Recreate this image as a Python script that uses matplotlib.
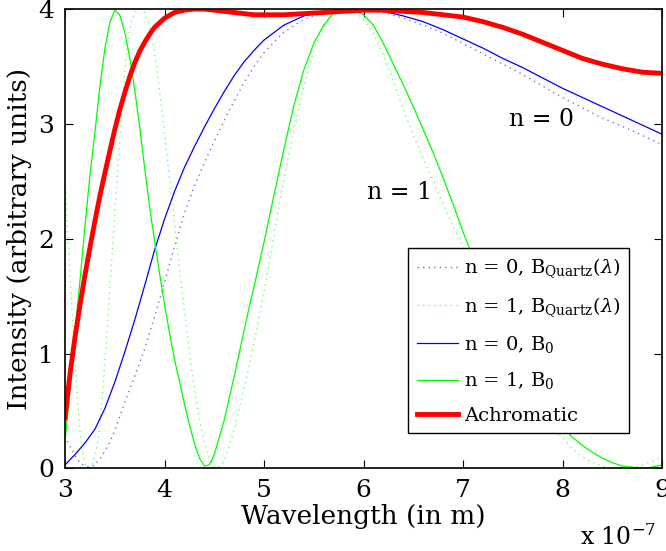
import matplotlib
matplotlib.use("Agg")
import matplotlib.pyplot as plt

plt.rcParams['font.family'] = 'DejaVu Serif'
plt.rcParams['mathtext.fontset'] = 'dejavuserif'

# wavelength in units of 1e-7 m
x_b0_n0 = [3.0, 3.1, 3.2, 3.3, 3.4, 3.5, 3.6, 3.7, 3.8, 3.9, 4.0, 4.1, 4.2, 4.3, 4.4,
           4.5, 4.6, 4.7, 4.8, 4.9, 5.0, 5.2, 5.4, 5.6, 5.8, 6.0, 6.2, 6.4, 6.6, 6.8,
           7.0, 7.2, 7.4, 7.6, 7.8, 8.0, 8.2, 8.4, 8.6, 8.8, 9.0]
y_b0_n0 = [0.03, 0.12, 0.22, 0.34, 0.52, 0.75, 1.01, 1.29, 1.59, 1.90, 2.17, 2.41, 2.62, 2.80, 2.97,
           3.13, 3.28, 3.42, 3.54, 3.64, 3.73, 3.86, 3.94, 3.98, 4.00, 4.00, 3.98, 3.94, 3.89, 3.82,
           3.74, 3.66, 3.57, 3.49, 3.40, 3.31, 3.23, 3.15, 3.07, 2.99, 2.91]

x_bq_n0 = [3.0, 3.05, 3.1, 3.15, 3.2, 3.25, 3.3, 3.35, 3.4, 3.45, 3.5, 3.6, 3.7, 3.8, 3.9,
           4.0, 4.1, 4.2, 4.3, 4.4, 4.5, 4.6, 4.7, 4.8, 4.9, 5.0, 5.2, 5.4, 5.6, 5.8,
           6.0, 6.2, 6.4, 6.6, 6.8, 7.0, 7.2, 7.4, 7.6, 7.8, 8.0, 8.2, 8.4, 8.6, 8.8, 9.0]
y_bq_n0 = [0.28, 0.19, 0.11, 0.05, 0.02, 0.01, 0.03, 0.08, 0.15, 0.23, 0.33, 0.57, 0.80, 1.04, 1.32,
           1.62, 1.93, 2.22, 2.46, 2.66, 2.85, 3.03, 3.20, 3.36, 3.50, 3.62, 3.80, 3.91, 3.97, 4.00,
           3.99, 3.97, 3.92, 3.86, 3.79, 3.70, 3.61, 3.52, 3.43, 3.33, 3.23, 3.14, 3.05, 2.98, 2.90, 2.82]

x_b0_n1 = [3.0, 3.05, 3.1, 3.15, 3.2, 3.25, 3.3, 3.35, 3.4, 3.45, 3.5, 3.55, 3.6, 3.65, 3.7,
           3.75, 3.8, 3.85, 3.9, 3.95, 4.0, 4.05, 4.1, 4.15, 4.2, 4.25, 4.3, 4.35, 4.4, 4.45,
           4.5, 4.55, 4.6, 4.65, 4.7, 4.75, 4.8, 4.85, 4.9, 4.95, 5.0, 5.1, 5.2, 5.3, 5.4,
           5.5, 5.6, 5.7, 5.8, 5.9, 6.0, 6.1, 6.2, 6.3, 6.4, 6.5, 6.6, 6.7, 6.8, 6.9,
           7.0, 7.2, 7.4, 7.6, 7.8, 8.0, 8.1, 8.2, 8.3, 8.4, 8.5, 8.6, 8.7, 8.8, 8.9, 9.0]
y_b0_n1 = [0.23, 0.68, 1.18, 1.63, 2.10, 2.55, 2.92, 3.32, 3.65, 3.88, 3.99, 3.95, 3.80, 3.58, 3.30,
           2.98, 2.62, 2.28, 1.98, 1.70, 1.43, 1.18, 0.95, 0.76, 0.56, 0.38, 0.22, 0.09, 0.02, 0.03,
           0.12, 0.27, 0.42, 0.61, 0.80, 1.00, 1.20, 1.40, 1.58, 1.78, 1.97, 2.38, 2.78, 3.16, 3.47,
           3.70, 3.86, 3.97, 4.00, 3.99, 3.95, 3.86, 3.70, 3.52, 3.34, 3.15, 2.95, 2.75, 2.53, 2.30,
           2.06, 1.62, 1.22, 0.88, 0.58, 0.36, 0.27, 0.20, 0.14, 0.09, 0.05, 0.02, 0.01, 0.00, 0.01, 0.03]

x_bq_n1 = [3.0, 3.03, 3.06, 3.09, 3.12, 3.15, 3.18, 3.21, 3.24, 3.27, 3.3, 3.33, 3.36, 3.39, 3.42,
           3.45, 3.48, 3.51, 3.54, 3.57, 3.6, 3.63, 3.66, 3.7, 3.74, 3.76, 3.8, 3.84, 3.88, 3.92,
           3.96, 4.0, 4.04, 4.08, 4.12, 4.16, 4.2, 4.24, 4.28, 4.32, 4.36, 4.4, 4.44, 4.48, 4.52,
           4.56, 4.6, 4.65, 4.7, 4.75, 4.8, 4.85, 4.9, 4.95, 5.0, 5.05, 5.1, 5.15, 5.2, 5.3,
           5.4, 5.5, 5.6, 5.7, 5.8, 5.9, 6.0, 6.1, 6.2, 6.3, 6.4, 6.5, 6.6, 6.7, 6.8,
           6.9, 7.0, 7.2, 7.4, 7.6, 7.8, 8.0, 8.1, 8.2, 8.3, 8.4, 8.5, 8.6, 8.7, 8.8, 8.9, 9.0]
y_bq_n1 = [2.55, 2.00, 1.55, 1.08, 0.66, 0.33, 0.12, 0.03, 0.00, 0.03, 0.10, 0.22, 0.46, 0.80, 1.16,
           1.56, 1.95, 2.35, 2.72, 3.10, 3.45, 3.70, 3.87, 3.97, 4.00, 4.00, 3.97, 3.88, 3.72, 3.50,
           3.22, 2.92, 2.61, 2.30, 1.98, 1.67, 1.37, 1.08, 0.82, 0.59, 0.39, 0.23, 0.11, 0.04, 0.00,
           0.02, 0.07, 0.19, 0.34, 0.51, 0.70, 0.89, 1.09, 1.31, 1.54, 1.79, 2.03, 2.28, 2.52, 2.95,
           3.33, 3.64, 3.85, 3.96, 4.00, 3.99, 3.91, 3.79, 3.60, 3.37, 3.13, 2.90, 2.70, 2.50, 2.30,
           2.11, 1.93, 1.52, 1.12, 0.76, 0.45, 0.27, 0.17, 0.10, 0.05, 0.02, 0.00, 0.00, 0.01, 0.03, 0.06, 0.10]

x_achro = [3.0, 3.05, 3.1, 3.15, 3.2, 3.25, 3.3, 3.35, 3.4, 3.45, 3.5, 3.55, 3.6, 3.65, 3.7,
           3.75, 3.8, 3.85, 3.9, 3.95, 4.0, 4.1, 4.2, 4.3, 4.4, 4.5, 4.6, 4.7, 4.8, 4.9,
           5.0, 5.2, 5.4, 5.6, 5.8, 6.0, 6.2, 6.4, 6.6, 6.8, 7.0, 7.2, 7.4, 7.6, 7.8,
           8.0, 8.2, 8.4, 8.6, 8.8, 9.0]
y_achro = [0.44, 0.82, 1.14, 1.42, 1.68, 1.92, 2.15, 2.37, 2.57, 2.76, 2.95, 3.12, 3.27, 3.41, 3.53,
           3.63, 3.71, 3.78, 3.84, 3.88, 3.92, 3.97, 3.99, 4.00, 4.00, 3.99, 3.98, 3.97, 3.96, 3.95,
           3.95, 3.95, 3.96, 3.97, 3.98, 3.99, 3.99, 3.98, 3.97, 3.95, 3.93, 3.89, 3.84, 3.78, 3.71,
           3.64, 3.57, 3.52, 3.48, 3.45, 3.44]

labels = [r'n = 0, B$_{\rm Quartz}$($\lambda$)', r'n = 1, B$_{\rm Quartz}$($\lambda$)',
          r'n = 0, B$_{\rm 0}$', r'n = 1, B$_{\rm 0}$', 'Achromatic']

fig = plt.figure(figsize=(6.66, 5.51), dpi=100)
ax = fig.add_axes([0.0976, 0.150, 0.8964, 0.8336])

ax.plot(x_bq_n0, y_bq_n0, color='#6f6fff', linestyle=(0, (1, 3)), linewidth=1.0, label=labels[0])
ax.plot(x_bq_n1, y_bq_n1, color='#6fff6f', linestyle=(0, (1, 3)), linewidth=1.0, label=labels[1])
ax.plot(x_b0_n0, y_b0_n0, color='#0000ff', linewidth=0.9, label=labels[2])
ax.plot(x_b0_n1, y_b0_n1, color='#00ff00', linewidth=0.9, label=labels[3])
ax.plot(x_achro, y_achro, color='#ff0000', linewidth=3.5, label=labels[4])

ax.set_xlim(3, 9)
ax.set_ylim(0, 4)
ax.set_xticks([3, 4, 5, 6, 7, 8, 9])
ax.set_yticks([0, 1, 2, 3, 4])
ax.tick_params(direction='in', top=True, right=True, length=6, width=0.8, labelsize=18, pad=8)
for s in ax.spines.values():
    s.set_linewidth(1.3)
    s.set_color('#111111')

ax.set_xlabel('Wavelength (in m)', fontsize=19, labelpad=1)
ax.set_ylabel('Intensity (arbitrary units)', fontsize=19, labelpad=4)
fig.text(0.985, 0.026, r'x 10$^{-7}$', fontsize=17, ha='right', va='center')

ax.text(7.79, 3.04, 'n = 0', fontsize=17, ha='center', va='center')
ax.text(6.36, 2.40, 'n = 1', fontsize=17, ha='center', va='center')

leg = ax.legend(loc='upper left', bbox_to_anchor=(0.575, 0.48), borderaxespad=0, fontsize=14,
                handlelength=2.1, handletextpad=0.3, labelspacing=0.78, borderpad=0.45,
                fancybox=False, framealpha=1)
leg.get_frame().set_edgecolor('black')
leg.get_frame().set_linewidth(1.0)

fig.savefig('out.png', dpi=100)
